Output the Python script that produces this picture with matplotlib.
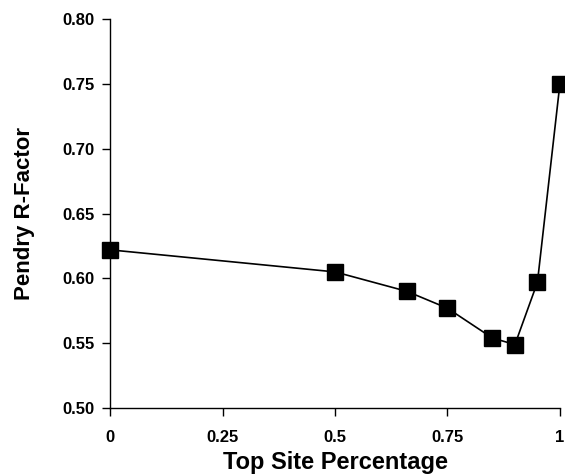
import matplotlib.pyplot as plt

# dados
top_site = [0.0, 0.5, 0.66, 0.75, 0.85, 0.90, 0.95, 1.0]
r_factor = [0.622, 0.605, 0.590, 0.577, 0.554, 0.549, 0.597, 0.750]

x_ticks = [0, 0.25, 0.5, 0.75, 1]
x_tick_labels = ['0', '0.25', '0.5', '0.75', '1']
y_ticks = [0.50, 0.55, 0.60, 0.65, 0.70, 0.75, 0.80]

plt.rcParams['font.family'] = ['Liberation Sans', 'DejaVu Sans']

fig = plt.figure(figsize=(5.65, 4.74), dpi=100)
ax = fig.add_axes([0.195, 0.139, 0.796, 0.821])

ax.plot(top_site, r_factor, color='black', linewidth=1.2, clip_on=False,
        marker='s', markersize=11, markerfacecolor='black', markeredgecolor='black')

ax.set_xlim(0, 1)
ax.set_ylim(0.50, 0.80)
ax.set_xticks(x_ticks)
ax.set_xticklabels(x_tick_labels)
ax.set_yticks(y_ticks)
ax.set_yticklabels([f'{v:.2f}' for v in y_ticks])

ax.spines['top'].set_visible(False)
ax.spines['right'].set_visible(False)
ax.spines['left'].set_linewidth(1.0)
ax.spines['bottom'].set_linewidth(1.0)
ax.tick_params(direction='out', length=6, width=1.0, labelsize=12)
ax.tick_params(axis='x', pad=10)
ax.tick_params(axis='y', pad=5)
for lbl in ax.get_xticklabels() + ax.get_yticklabels():
    lbl.set_fontweight('bold')

ax.set_xlabel('Top Site Percentage', fontsize=17, fontweight='bold', labelpad=4)
ax.set_ylabel('Pendry R-Factor', fontsize=16, fontweight='bold', labelpad=20)

fig.savefig('out.png', dpi=100)
